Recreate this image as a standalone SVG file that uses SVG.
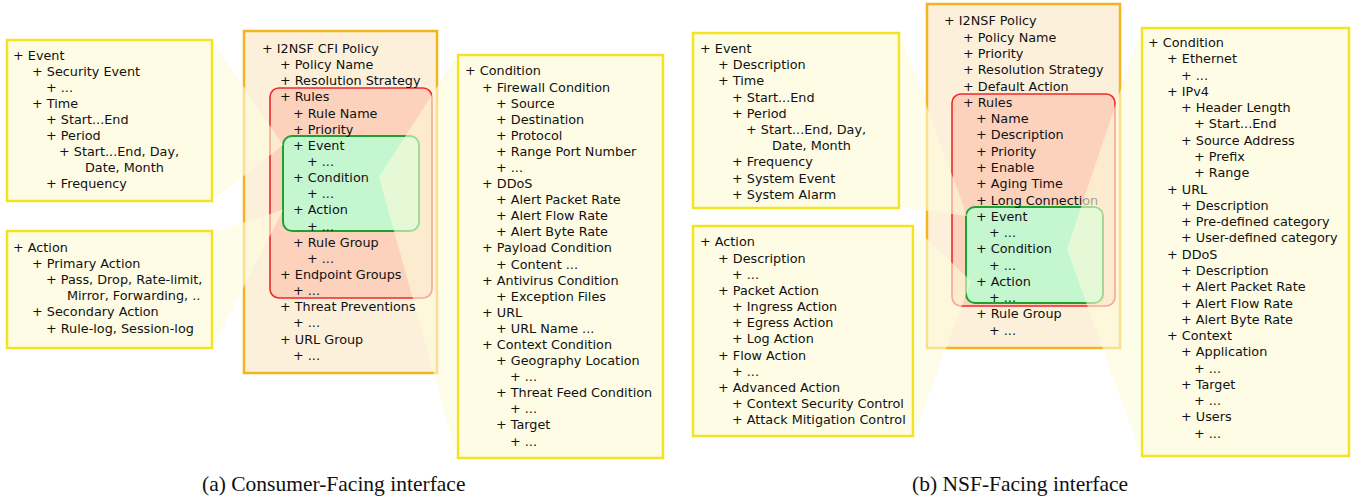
<svg xmlns="http://www.w3.org/2000/svg" width="1367" height="499" viewBox="0 0 1367 499">
<style>
.side{fill:#fefce4;stroke:#f2e420;stroke-width:2.5}
.main{fill:#fdf0da;stroke:#f4b41c;stroke-width:2.5}
.rules{fill:#fcd2bd;stroke:#ec2a2a;stroke-width:1.6}
.core{fill:#c4f6cf;stroke:#1ea22e;stroke-width:2}
.funnel{fill:#fefbdc;fill-opacity:0.6;stroke:none}
text{font-family:"DejaVu Sans","Verdana",sans-serif;font-size:12.8px;fill:#111}
text.cap{font-family:"Liberation Serif","Times New Roman",serif;font-size:21.5px;fill:#111}
</style>
<rect width="1367" height="499" fill="#ffffff"/>

<g id="cfi-event">
<rect class="side" x="7" y="40" width="205" height="161"/>
<text x="13" y="59.5">+ Event</text>
<text x="32" y="75.6">+ Security Event</text>
<text x="46" y="91.7">+ ...</text>
<text x="32" y="107.8">+ Time</text>
<text x="46" y="123.9">+ Start...End</text>
<text x="46" y="140">+ Period</text>
<text x="59" y="156.1">+ Start...End, Day,</text>
<text x="85" y="172.2">Date, Month</text>
<text x="46" y="188.3">+ Frequency</text>
</g>

<g id="cfi-action">
<rect class="side" x="7" y="231" width="205" height="117"/>
<text x="13" y="252">+ Action</text>
<text x="32" y="268.1">+ Primary Action</text>
<text x="46" y="284.2">+ Pass, Drop, Rate-limit,</text>
<text x="67" y="300.3">Mirror, Forwarding, ..</text>
<text x="32" y="316.4">+ Secondary Action</text>
<text x="46" y="332.5">+ Rule-log, Session-log</text>
</g>

<g id="cfi-policy">
<rect class="main" x="244" y="31" width="193" height="342"/>
<rect class="rules" x="270" y="88" width="162" height="210" rx="9"/>
<rect class="core" x="283" y="136" width="136" height="95" rx="9"/>
<text x="262" y="53">+ I2NSF CFI Policy</text>
<text x="280" y="69.1">+ Policy Name</text>
<text x="280" y="85.3">+ Resolution Strategy</text>
<text x="280" y="101.4">+ Rules</text>
<text x="293" y="117.6">+ Rule Name</text>
<text x="293" y="133.7">+ Priority</text>
<text x="293" y="149.8">+ Event</text>
<text x="307" y="166">+ ...</text>
<text x="293" y="182.1">+ Condition</text>
<text x="307" y="198.3">+ ...</text>
<text x="293" y="214.4">+ Action</text>
<text x="307" y="230.5">+ ...</text>
<text x="293" y="246.7">+ Rule Group</text>
<text x="307" y="262.8">+ ...</text>
<text x="280" y="279">+ Endpoint Groups</text>
<text x="293" y="295.1">+ ...</text>
<text x="280" y="311.2">+ Threat Preventions</text>
<text x="293" y="327.4">+ ...</text>
<text x="280" y="343.5">+ URL Group</text>
<text x="293" y="359.7">+ ...</text>
</g>

<g id="cfi-condition">
<rect class="side" x="458" y="55" width="205" height="403"/>
<text x="465" y="75.4">+ Condition</text>
<text x="482" y="91.5">+ Firewall Condition</text>
<text x="496" y="107.6">+ Source</text>
<text x="496" y="123.7">+ Destination</text>
<text x="496" y="139.8">+ Protocol</text>
<text x="496" y="155.9">+ Range Port Number</text>
<text x="496" y="171.9">+ ...</text>
<text x="482" y="188">+ DDoS</text>
<text x="496" y="204.1">+ Alert Packet Rate</text>
<text x="496" y="220.2">+ Alert Flow Rate</text>
<text x="496" y="236.3">+ Alert Byte Rate</text>
<text x="482" y="252.4">+ Payload Condition</text>
<text x="496" y="268.5">+ Content ...</text>
<text x="482" y="284.6">+ Antivirus Condition</text>
<text x="496" y="300.7">+ Exception Files</text>
<text x="482" y="316.8">+ URL</text>
<text x="496" y="332.8">+ URL Name ...</text>
<text x="482" y="348.9">+ Context Condition</text>
<text x="496" y="365">+ Geography Location</text>
<text x="510" y="381.1">+ ...</text>
<text x="496" y="397.2">+ Threat Feed Condition</text>
<text x="510" y="413.3">+ ...</text>
<text x="496" y="429.4">+ Target</text>
<text x="510" y="445.5">+ ...</text>
</g>

<g id="nsf-event">
<rect class="side" x="693" y="33" width="206" height="175"/>
<text x="700" y="53">+ Event</text>
<text x="718" y="69.2">+ Description</text>
<text x="718" y="85.4">+ Time</text>
<text x="732" y="101.6">+ Start...End</text>
<text x="732" y="117.8">+ Period</text>
<text x="746" y="134">+ Start...End, Day,</text>
<text x="772" y="150.1">Date, Month</text>
<text x="732" y="166.3">+ Frequency</text>
<text x="732" y="182.5">+ System Event</text>
<text x="732" y="198.7">+ System Alarm</text>
</g>

<g id="nsf-action">
<rect class="side" x="693" y="226" width="220" height="210"/>
<text x="700" y="246.4">+ Action</text>
<text x="718" y="262.6">+ Description</text>
<text x="732" y="278.7">+ ...</text>
<text x="718" y="294.9">+ Packet Action</text>
<text x="732" y="311">+ Ingress Action</text>
<text x="732" y="327.2">+ Egress Action</text>
<text x="732" y="343.3">+ Log Action</text>
<text x="718" y="359.5">+ Flow Action</text>
<text x="732" y="375.6">+ ...</text>
<text x="718" y="391.8">+ Advanced Action</text>
<text x="732" y="407.9">+ Context Security Control</text>
<text x="732" y="424.1">+ Attack Mitigation Control</text>
</g>

<g id="nsf-policy">
<rect class="main" x="927" y="4" width="193" height="344"/>
<rect class="rules" x="952" y="94" width="163" height="212" rx="9"/>
<rect class="core" x="966" y="207" width="137" height="96" rx="9"/>
<text x="944" y="25.4">+ I2NSF Policy</text>
<text x="963" y="41.7">+ Policy Name</text>
<text x="963" y="58">+ Priority</text>
<text x="963" y="74.2">+ Resolution Strategy</text>
<text x="963" y="90.5">+ Default Action</text>
<text x="963" y="106.8">+ Rules</text>
<text x="976" y="123.1">+ Name</text>
<text x="976" y="139.4">+ Description</text>
<text x="976" y="155.6">+ Priority</text>
<text x="976" y="171.9">+ Enable</text>
<text x="976" y="188.2">+ Aging Time</text>
<text x="976" y="204.5">+ Long Connection</text>
<text x="976" y="220.8">+ Event</text>
<text x="989" y="237">+ ...</text>
<text x="976" y="253.3">+ Condition</text>
<text x="989" y="269.6">+ ...</text>
<text x="976" y="285.9">+ Action</text>
<text x="989" y="302.2">+ ...</text>
<text x="976" y="318.4">+ Rule Group</text>
<text x="989" y="334.7">+ ...</text>
</g>

<g id="nsf-condition">
<rect class="side" x="1142" y="28" width="207" height="428"/>
<text x="1148" y="47">+ Condition</text>
<text x="1167" y="63.3">+ Ethernet</text>
<text x="1181" y="79.6">+ ...</text>
<text x="1167" y="95.8">+ IPv4</text>
<text x="1181" y="112.1">+ Header Length</text>
<text x="1194" y="128.4">+ Start...End</text>
<text x="1181" y="144.7">+ Source Address</text>
<text x="1194" y="161">+ Prefix</text>
<text x="1194" y="177.2">+ Range</text>
<text x="1167" y="193.5">+ URL</text>
<text x="1181" y="209.8">+ Description</text>
<text x="1181" y="226.1">+ Pre-defined category</text>
<text x="1181" y="242.4">+ User-defined category</text>
<text x="1167" y="258.6">+ DDoS</text>
<text x="1181" y="274.9">+ Description</text>
<text x="1181" y="291.2">+ Alert Packet Rate</text>
<text x="1181" y="307.5">+ Alert Flow Rate</text>
<text x="1181" y="323.8">+ Alert Byte Rate</text>
<text x="1167" y="340">+ Context</text>
<text x="1181" y="356.3">+ Application</text>
<text x="1194" y="372.6">+ ...</text>
<text x="1181" y="388.9">+ Target</text>
<text x="1194" y="405.2">+ ...</text>
<text x="1181" y="421.4">+ Users</text>
<text x="1194" y="437.7">+ ...</text>
</g>

<g id="connectors">
<polygon class="funnel" points="213,41 283,145 213,200"/>
<polygon class="funnel" points="213,232 283,210 213,347"/>
<polygon class="funnel" points="457,56 379,177 457,457"/>
<polygon class="funnel" points="900,34 967,216 900,207"/>
<polygon class="funnel" points="914,227 971,281 914,435"/>
<polygon class="funnel" points="1141,29 1067,249 1141,455"/>
</g>

<g id="captions">
<text class="cap" x="202" y="491">(a) Consumer-Facing interface</text>
<text class="cap" x="912" y="491">(b) NSF-Facing interface</text>
</g>
</svg>
